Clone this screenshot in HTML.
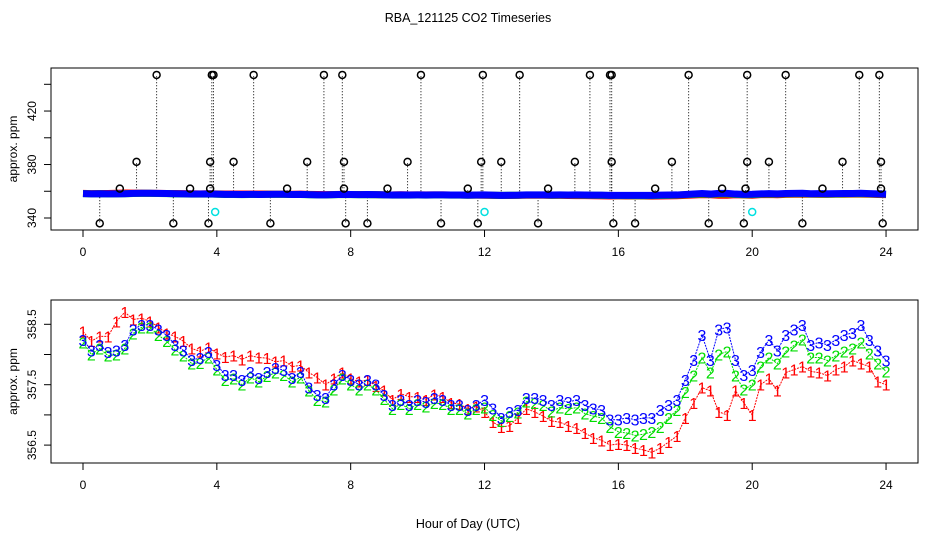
<!DOCTYPE html>
<html><head><meta charset="utf-8"><style>
body{margin:0;background:#fff;}
svg{display:block;font-family:"Liberation Sans",sans-serif;}
</style></head><body>
<svg id="chart" width="936" height="540" viewBox="0 0 936 540">
<text x="468" y="22" font-size="12.5" text-anchor="middle">RBA_121125  CO2 Timeseries</text>
<text x="468" y="528" font-size="12.5" text-anchor="middle">Hour of Day (UTC)</text>
<g id="top"></g><g id="bot"></g>
</svg>
<script>
const hours = [];
for (let i = 0; i <= 96; i++) hours.push(i * 0.25);
const xTicks = [0, 4, 8, 12, 16, 20, 24];
const topYTicks = [340, 360, 380, 400, 420, 440];
const topYLabels = ["340", "", "380", "", "420", ""];
const botYTicks = [356.5, 357, 357.5, 358, 358.5];
const botYLabels = ["356.5", "", "357.5", "", "358.5"];
const s3 = [358.24,358.07,358.16,358.04,358.07,358.16,358.41,358.49,
358.49,358.41,358.32,358.16,358.07,357.91,357.94,358.04,
357.83,357.66,357.66,357.58,357.71,357.61,357.71,357.78,
357.74,357.61,357.71,357.45,357.33,357.28,357.50,357.66,
357.58,357.50,357.58,357.50,357.33,357.16,357.25,357.16,
357.25,357.21,357.28,357.25,357.16,357.16,357.08,357.16,
357.25,357.11,356.95,357.05,357.08,357.28,357.28,357.25,
357.16,357.25,357.21,357.25,357.16,357.11,357.08,356.92,
356.92,356.95,356.92,356.95,356.95,357.08,357.16,357.25,
357.58,357.91,358.32,357.91,358.41,358.45,357.91,357.66,
357.74,358.04,358.24,358.07,358.32,358.41,358.49,358.16,
358.20,358.16,358.24,358.32,358.36,358.49,358.24,358.07,357.90];
const s2 = [358.20,358.00,358.10,357.98,358.00,358.10,358.35,358.45,
358.45,358.32,358.22,358.08,357.98,357.85,357.86,357.95,
357.75,357.58,357.60,357.50,357.62,357.55,357.64,357.70,
357.66,357.55,357.62,357.40,357.25,357.22,357.42,357.60,
357.50,357.42,357.50,357.42,357.26,357.10,357.18,357.10,
357.18,357.14,357.20,357.18,357.10,357.10,357.02,357.10,
357.12,357.00,356.90,356.98,357.04,357.22,357.20,357.16,
357.06,357.12,357.10,357.12,357.02,356.98,356.95,356.80,
356.72,356.70,356.66,356.68,356.72,356.80,356.95,357.08,
357.38,357.65,357.95,357.70,358.00,358.05,357.65,357.42,
357.50,357.80,357.95,357.85,358.05,358.15,358.25,357.95,
357.95,357.90,357.98,358.05,358.10,358.20,358.02,357.85,357.72];
const s1 = [358.38,358.22,358.30,358.30,358.55,358.70,358.58,358.60,
358.55,358.45,358.35,358.30,358.22,358.10,358.05,358.12,
358.02,357.96,357.98,357.92,357.98,357.95,357.94,357.88,
357.90,357.80,357.82,357.70,357.62,357.50,357.60,357.70,
357.60,357.55,357.58,357.48,357.40,357.25,357.35,357.30,
357.30,357.25,357.34,357.30,357.20,357.18,357.10,357.14,
357.05,356.88,356.80,356.82,356.95,357.10,357.05,356.98,
356.90,356.88,356.82,356.78,356.70,356.62,356.58,356.50,
356.52,356.50,356.45,356.42,356.38,356.45,356.55,356.65,
356.95,357.20,357.45,357.40,357.05,357.00,357.40,357.20,
357.00,357.50,357.60,357.40,357.70,357.75,357.80,357.72,
357.70,357.65,357.75,357.80,357.90,357.85,357.80,357.55,357.50];
const outHours = [2.2,3.85,3.9,5.1,7.2,7.75,10.1,11.95,13.05,15.15,15.75,15.8,18.1,19.85,21.0,23.2,23.8,
1.6,3.8,4.5,6.7,7.8,9.7,11.9,12.5,14.7,15.8,17.6,19.85,20.5,22.7,23.85,
0.5,2.7,3.75,5.6,7.85,8.5,10.7,11.8,13.6,15.85,16.5,18.7,19.75,21.5,23.9,
1.1,3.2,3.8,6.1,7.8,9.1,11.5,13.9,17.1,19.1,19.8,22.1,23.85];
const outVals = [447,447,447,447,447,447,447,447,447,447,447,447,447,447,447,447,447,
382,382,382,382,382,382,382,382,382,382,382,382,382,382,382,
336,336,336,336,336,336,336,336,336,336,336,336,336,336,336,
362,362,362,362,362,362,362,362,362,362,362,362,362];
const cyanHours = [3.95, 12.0, 20.0];
const cyanVals = [344.5, 344.5, 344.5];

const NS = "http://www.w3.org/2000/svg";
const X = h => 83 + h * 33.46;
const Yt = v => 218 - (v - 340) * 1.337;
const Yb = v => 324.3 - (v - 358.5) * 60.4;
function mk(tag, attrs, parent) { const e = document.createElementNS(NS, tag); for (const k in attrs) e.setAttribute(k, attrs[k]); parent.appendChild(e); return e; }

function axes(g, top, bottom, yTicks, yLabels, Y, prefix) {
  const box = mk("rect", {x: 51, y: top, width: 867, height: bottom - top, fill: "none", stroke: "#000"}, g);
  
  
  xTicks.forEach(t => {
    const l = mk("line", {x1: X(t), x2: X(t), y1: bottom, y2: bottom + 7, stroke: "#000"}, g);
    
    
    const tx = mk("text", {x: X(t), y: bottom + 26, "font-size": 12, "text-anchor": "middle"}, g);
    
    
    tx.textContent = t;
  });
  yTicks.forEach((t, i) => {
    const l = mk("line", {x1: 44, x2: 51, y1: Y(t), y2: Y(t), stroke: "#000"}, g);
    
    
    if (yLabels[i]) {
      const tx = mk("text", {x: 36, y: Y(t), "font-size": 12, "text-anchor": "middle", transform: `rotate(-90 36 ${Y(t)})`}, g);
      
      
      tx.textContent = yLabels[i];
    }
  });
  const cy = (top + bottom) / 2;
  const yt = mk("text", {x: 17, y: cy, "font-size": 12, "text-anchor": "middle", transform: `rotate(-90 17 ${cy})`}, g);
  
  
  yt.textContent = "approx. ppm";
}

const gt = document.getElementById("top");
const gb = document.getElementById("bot");
axes(gt, 68, 230, topYTicks, topYLabels, Yt, "top");
axes(gb, 300, 463, botYTicks, botYLabels, Yb, "bottom");

outHours.forEach((h, i) => {
  const l = mk("line", {x1: X(h), x2: X(h), y1: Yt(357.8), y2: Yt(outVals[i]), stroke: "#000", "stroke-dasharray": "1,2"}, gt);
  
  
});
const series = [[s1, "#ff0000", "1"], [s2, "#00dd00", "2"], [s3, "#0000ff", "3"]];
series.forEach(([s, c, lab]) => {
  const p = mk("polyline", {points: s.map((v, i) => X(hours[i]) + "," + Yt(v)).join(" "), fill: "none", stroke: c, "stroke-width": 7}, gt);
  
  
});
outHours.forEach((h, i) => {
  const c = mk("circle", {cx: X(h), cy: Yt(outVals[i]), r: 3.5, fill: "none", stroke: "#000", "stroke-width": 1.5}, gt);
  
  
});
cyanHours.forEach((h, i) => {
  const c = mk("circle", {cx: X(h), cy: Yt(cyanVals[i]), r: 3.5, fill: "none", stroke: "#00e0e0", "stroke-width": 1.5}, gt);
  
  
});

series.forEach(([s, c, lab]) => {
  const p = mk("polyline", {points: s.map((v, i) => X(hours[i]) + "," + Yb(v)).join(" "), fill: "none", stroke: c, "stroke-width": 1, "stroke-dasharray": "2,1"}, gb);
  
  
  s.forEach((v, i) => {
    const t = mk("text", {x: X(hours[i]), y: Yb(v) + 6, "font-size": 16, fill: c, "text-anchor": "middle"}, gb);
    
    
    t.textContent = lab;
  });
});
</script>
</body></html>
